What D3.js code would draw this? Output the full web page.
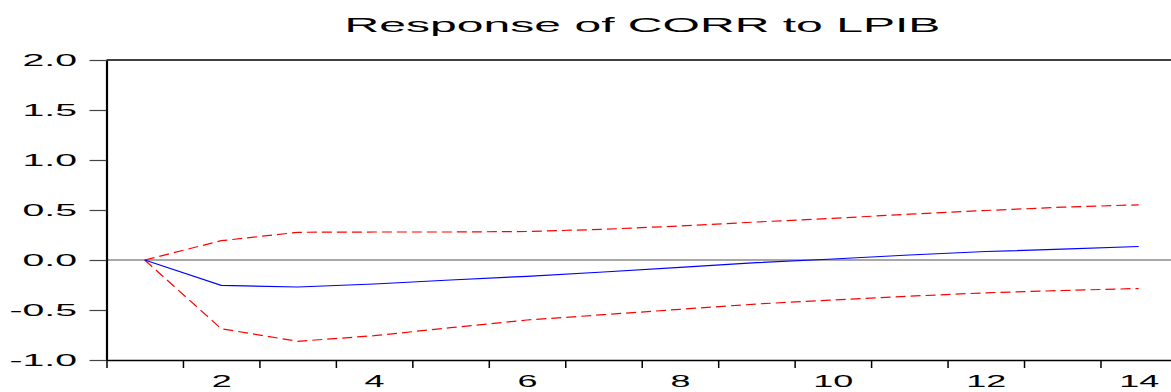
<!DOCTYPE html>
<html>
<head>
<meta charset="utf-8">
<script src="https://cdn.jsdelivr.net/npm/d3@7"></script>
<style>
  html, body { margin: 0; padding: 0; background: #fff; overflow: hidden; }
  svg { display: block; }
  text { font-family: "Liberation Sans", Arial, Helvetica, sans-serif; fill: #000; }
</style>
</head>
<body>
<svg id="chart" width="1171" height="392"></svg>
<script>
// ---- Data ----
const title = "Response of CORR to LPIB";
const periods = [1, 2, 3, 4, 5, 6, 7, 8, 9, 10, 11, 12, 13, 14];
const response = [0, -0.253, -0.27, -0.24, -0.20, -0.163, -0.12, -0.073, -0.027, 0.01, 0.05, 0.085, 0.108, 0.135];
const upperBand = [0, 0.193, 0.277, 0.28, 0.28, 0.285, 0.307, 0.34, 0.38, 0.417, 0.458, 0.495, 0.528, 0.552];
const lowerBand = [0, -0.687, -0.813, -0.757, -0.677, -0.60, -0.547, -0.493, -0.44, -0.40, -0.362, -0.328, -0.305, -0.285];
const yTicks = [-1.0, -0.5, 0.0, 0.5, 1.0, 1.5, 2.0];
const xLabelTicks = [2, 4, 6, 8, 10, 12, 14];
const xBoundaryTicks = [0.5, 1.5, 2.5, 3.5, 4.5, 5.5, 6.5, 7.5, 8.5, 9.5, 10.5, 11.5, 12.5, 13.5];

// ---- Layout ----
const plotLeft = 106.5, plotTop = 60, plotBottom = 360;
const step = 76.46;
const plotRight = plotLeft + 14 * step;

const svg = d3.select("#chart");
const x = d3.scaleLinear().domain([0.5, 14.5]).range([plotLeft, plotRight]);
const y = d3.scaleLinear().domain([-1, 2]).range([plotBottom, plotTop]);

// Title (horizontally stretched like the original)
svg.append("text")
  .attr("transform", `translate(${(345 + 940) / 2},32) scale(2.29,1)`)
  .attr("text-anchor", "middle")
  .style("font-size", "21px")
  .text(title);

// Zero line
svg.append("line")
  .attr("x1", plotLeft).attr("x2", plotRight)
  .attr("y1", y(0)).attr("y2", y(0))
  .attr("stroke", "#a8a8a8").attr("stroke-width", 2);

// Lines
const line = d3.line().x((d, i) => x(periods[i])).y(d => y(d));
svg.append("path").datum(upperBand).attr("d", line)
  .attr("fill", "none").attr("stroke", "#ff0000").attr("stroke-width", 1.2)
  .attr("stroke-dasharray", "10,5");
svg.append("path").datum(lowerBand).attr("d", line)
  .attr("fill", "none").attr("stroke", "#ff0000").attr("stroke-width", 1.2)
  .attr("stroke-dasharray", "10,5");
svg.append("path").datum(response).attr("d", line)
  .attr("fill", "none").attr("stroke", "#0000ff").attr("stroke-width", 1.2);

// Top border
svg.append("line")
  .attr("x1", plotLeft).attr("x2", plotRight)
  .attr("y1", plotTop).attr("y2", plotTop)
  .attr("stroke", "#000").attr("stroke-width", 1.5);

// Y axis
const yAxis = svg.append("g")
  .attr("transform", `translate(${plotLeft},0)`)
  .call(d3.axisLeft(y).tickValues(yTicks).tickFormat(d3.format(".1f"))
    .tickSize(17).tickSizeOuter(0).tickPadding(12));
yAxis.select(".domain").attr("stroke", "#000").attr("stroke-width", 2.2);
yAxis.selectAll(".tick line").attr("stroke", "#444").attr("stroke-width", 1.2);
yAxis.selectAll(".tick text")
  .attr("x", null)
  .attr("dy", null)
  .attr("transform", "translate(-29.5,5) scale(2.45,1)")
  .attr("text-anchor", "end")
  .style("font-size", "16px")
  .style("font-family", '"Liberation Sans", Arial, sans-serif')
  .attr("fill", "#000")
  .text(d => d3.format(".1f")(d).replace("\u2212", "-"));

// X axis: boundary ticks
const xAxis = svg.append("g")
  .attr("transform", `translate(0,${plotBottom})`)
  .call(d3.axisBottom(x).tickValues(xBoundaryTicks).tickFormat(() => "")
    .tickSize(8).tickSizeOuter(0));
xAxis.select(".domain").attr("stroke", "#000").attr("stroke-width", 1.5);
xAxis.selectAll(".tick line").attr("stroke", "#000").attr("stroke-width", 1.5);

// X axis labels at even periods
const xLab = svg.append("g")
  .attr("transform", `translate(0,${plotBottom})`)
  .call(d3.axisBottom(x).tickValues(xLabelTicks).tickFormat(d3.format("d"))
    .tickSize(0).tickSizeOuter(0));
xLab.select(".domain").remove();
xLab.selectAll(".tick text")
  .attr("y", null)
  .attr("dy", null)
  .attr("transform", "translate(0,27) scale(2.25,1)")
  .attr("text-anchor", "middle")
  .style("font-size", "16px")
  .style("font-family", '"Liberation Sans", Arial, sans-serif')
  .attr("fill", "#000");
</script>
</body>
</html>
